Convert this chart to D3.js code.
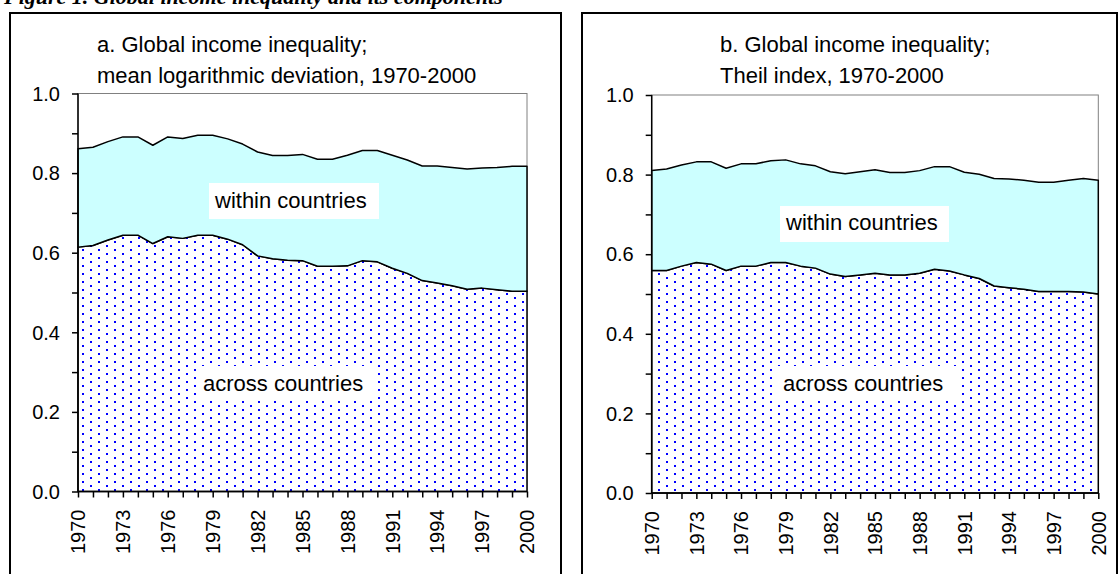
<!DOCTYPE html>
<html>
<head>
<meta charset="utf-8">
<script src="https://cdn.jsdelivr.net/npm/d3@7"></script>
<style>
  body { margin: 0; background: #fff; }
  svg { display: block; font-family: "Liberation Sans", Arial, sans-serif; }
</style>
</head>
<body>
<svg id="chart" width="1119" height="574"></svg>
<script>
const years = [1970, 1971, 1972, 1973, 1974, 1975, 1976, 1977, 1978, 1979, 1980,
    1981, 1982, 1983, 1984, 1985, 1986, 1987, 1988, 1989, 1990,
    1991, 1992, 1993, 1994, 1995, 1996, 1997, 1998, 1999, 2000];
const yearLabels = [1970, 1973, 1976, 1979, 1982, 1985, 1988, 1991, 1994, 1997, 2000];
const yTicks = [0, 0.1, 0.2, 0.3, 0.4, 0.5, 0.6, 0.7, 0.8, 0.9, 1.0];
const yLabels = [0, 0.2, 0.4, 0.6, 0.8, 1.0];

// a. mean logarithmic deviation
const mldAcross = [0.614, 0.618, 0.632, 0.644, 0.644, 0.623, 0.640, 0.636, 0.644, 0.644, 0.634,
    0.620, 0.592, 0.585, 0.581, 0.580, 0.566, 0.566, 0.567, 0.580, 0.577,
    0.561, 0.548, 0.530, 0.524, 0.517, 0.508, 0.511, 0.507, 0.503, 0.503];
const mldWithin = [0.247, 0.247, 0.247, 0.247, 0.247, 0.247, 0.251, 0.251, 0.251, 0.251, 0.252,
    0.253, 0.261, 0.259, 0.263, 0.267, 0.269, 0.269, 0.278, 0.277, 0.280,
    0.284, 0.285, 0.288, 0.294, 0.297, 0.302, 0.302, 0.307, 0.314, 0.314];

// b. Theil index
const theilAcross = [0.559, 0.559, 0.570, 0.579, 0.575, 0.559, 0.570, 0.570, 0.579, 0.579, 0.570,
    0.565, 0.550, 0.544, 0.548, 0.552, 0.548, 0.548, 0.552, 0.562, 0.558,
    0.548, 0.539, 0.520, 0.516, 0.512, 0.506, 0.506, 0.506, 0.505, 0.500];
const theilWithin = [0.251, 0.255, 0.254, 0.253, 0.257, 0.257, 0.257, 0.257, 0.256, 0.258, 0.257,
    0.257, 0.257, 0.258, 0.259, 0.260, 0.257, 0.257, 0.258, 0.258, 0.262,
    0.258, 0.262, 0.270, 0.273, 0.274, 0.275, 0.275, 0.280, 0.285, 0.286];

const svg = d3.select('#chart');

// dotted fill like the Excel pattern
const defs = svg.append('defs');
const pat = defs.append('pattern')
    .attr('id', 'dots')
    .attr('patternUnits', 'userSpaceOnUse')
    .attr('width', 16).attr('height', 8);
pat.append('rect').attr('width', 16).attr('height', 8).attr('fill', '#fff');
pat.append('rect').attr('x', 2).attr('y', 1).attr('width', 2).attr('height', 2).attr('fill', '#0000ff');
pat.append('rect').attr('x', 10).attr('y', 5).attr('width', 2).attr('height', 2).attr('fill', '#0000ff');

// figure caption, mostly above the visible page edge as in the scan
svg.append('text')
    .attr('x', 4).attr('y', 4)
    .style('font-family', '"Liberation Serif", "Times New Roman", serif')
    .style('font-size', '22px').style('font-style', 'italic').style('font-weight', 'bold')
    .text('Figure 1. Global income inequality and its components');

function drawPanel(p) {
    // panel frame
    svg.append('rect')
        .attr('x', p.box[0]).attr('y', p.box[1])
        .attr('width', p.box[2] - p.box[0]).attr('height', 600)
        .attr('fill', 'none').attr('stroke', '#000').attr('stroke-width', 2);

    const x = d3.scaleLinear().domain([1970, 2000]).range([p.left, p.right]);
    const y = d3.scaleLinear().domain([0, 1]).range([p.bottom, p.top]);

    const g = svg.append('g');

    g.append('rect')
        .attr('x', p.left).attr('y', p.top)
        .attr('width', p.right - p.left).attr('height', p.bottom - p.top)
        .attr('fill', '#fff').attr('stroke', '#808080').attr('stroke-width', 1);

    const rows = years.map((yr, i) => ({year: yr, across: p.across[i], within: p.within[i]}));
    const series = d3.stack().keys(['across', 'within'])(rows);
    const fills = ['url(#dots)', '#ccffff'];

    const area = d3.area()
        .x(d => x(d.data.year))
        .y0(d => y(d[0]))
        .y1(d => y(d[1]));

    g.selectAll('path.area')
        .data(series)
        .enter()
        .append('path')
        .attr('class', 'area')
        .attr('d', area)
        .attr('fill', (d, i) => fills[i])
        .attr('stroke', '#000')
        .attr('stroke-width', 1.5)
        .attr('stroke-linejoin', 'round');

    // y axis
    const ya = g.append('g')
        .attr('transform', `translate(${p.left},0)`)
        .call(d3.axisLeft(y).tickValues(yTicks).tickSize(6).tickFormat(''));
    ya.selectAll('path, line').attr('stroke', '#000').attr('stroke-width', 1.5);
    ya.select('path.domain').attr('d', `M0,${p.bottom}V${p.top}`);

    g.selectAll('text.ylab')
        .data(yLabels)
        .enter()
        .append('text')
        .attr('class', 'ylab')
        .attr('x', p.left - 18)
        .attr('y', d => y(d))
        .attr('dy', '0.36em')
        .attr('text-anchor', 'end')
        .style('font-size', '20px')
        .text(d => d3.format('.1f')(d));

    // x axis
    const xa = g.append('g')
        .attr('transform', `translate(0,${p.bottom})`)
        .call(d3.axisBottom(x).tickValues(years).tickSize(6).tickFormat(''));
    xa.selectAll('path, line').attr('stroke', '#000').attr('stroke-width', 1.5);
    xa.select('path.domain').attr('d', `M${p.left},0H${p.right}`);

    g.selectAll('text.xlab')
        .data(yearLabels)
        .enter()
        .append('text')
        .attr('class', 'xlab')
        .attr('transform', d => `translate(${x(d)},${p.bottom + 18}) rotate(-90)`)
        .attr('dy', '0.36em')
        .attr('text-anchor', 'end')
        .style('font-size', '20px')
        .text(d => d);

    // titles
    p.title.forEach((t, i) => {
        g.append('text')
            .attr('x', p.titleX)
            .attr('y', 52 + i * 30.5)
            .style('font-size', '22px')
            .text(t);
    });

    // series labels on white boxes
    p.labels.forEach(l => {
        g.append('rect')
            .attr('x', l.box[0]).attr('y', l.box[1])
            .attr('width', l.box[2]).attr('height', l.box[3])
            .attr('fill', '#fff');
        g.append('text')
            .attr('x', l.box[0] + 6)
            .attr('y', l.base)
            .style('font-size', '22px')
            .text(l.text);
    });
}

drawPanel({
    box: [10, 13, 561],
    left: 78, right: 527, top: 93.5, bottom: 491.5,
    across: mldAcross, within: mldWithin,
    titleX: 97,
    title: ['a. Global income inequality;', 'mean logarithmic deviation, 1970-2000'],
    labels: [
        {text: 'within countries', box: [209, 183, 170, 36], base: 208},
        {text: 'across countries', box: [197, 366, 180, 35], base: 391}
    ]
});

drawPanel({
    box: [582, 13, 1117],
    left: 651.7, right: 1098.3, top: 95, bottom: 493,
    across: theilAcross, within: theilWithin,
    titleX: 720,
    title: ['b. Global income inequality;', 'Theil index, 1970-2000'],
    labels: [
        {text: 'within countries', box: [780, 206, 169, 36], base: 230},
        {text: 'across countries', box: [777, 366, 180, 35], base: 391}
    ]
});
</script>
</body>
</html>
